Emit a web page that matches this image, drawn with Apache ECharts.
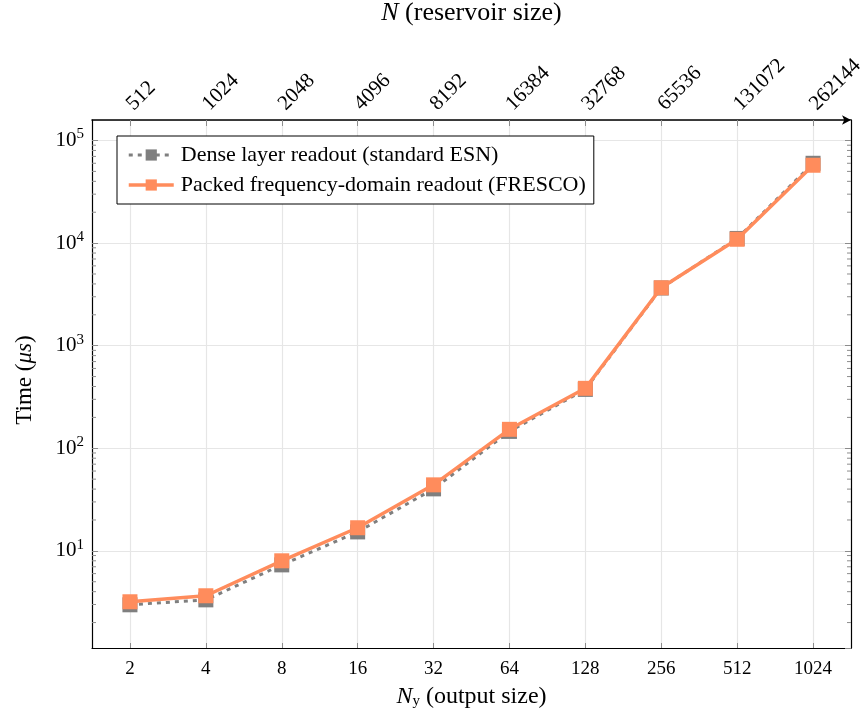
<!DOCTYPE html>
<html>
<head>
<meta charset="utf-8">
<script src="https://cdn.jsdelivr.net/npm/echarts@6/dist/echarts.min.js"></script>
<style>
  html, body { margin: 0; padding: 0; background: #fff; }
  #chart { width: 862px; height: 719px; }
</style>
</head>
<body>
<div id="chart"></div>
<script>
// Output sizes (bottom axis) and matching reservoir sizes (top axis)
const outputSizes = ['2', '4', '8', '16', '32', '64', '128', '256', '512', '1024'];
const reservoirSizes = ['512', '1024', '2048', '4096', '8192', '16384', '32768', '65536', '131072', '262144'];

// Readout time in microseconds
const denseTimes = [2.98, 3.33, 7.3, 15.3, 40.2, 146, 375, 3650, 11100, 60000];
const frescoTimes = [3.19, 3.65, 8.0, 16.8, 44, 153, 384, 3670, 10900, 57400];

const seriesNames = ['Dense layer readout (standard ESN)', 'Packed frequency-domain readout (FRESCO)'];

// Log-spaced minor tick values (2..9 per decade)
const minorMantissas = [2, 3, 4, 5, 6, 7, 8, 9];
const decades = [1, 10, 100, 1000, 10000];

const yMin = 1.13;
const yMax = 158500;

const SERIF = '"Liberation Serif", "DejaVu Serif", serif';
const ORANGE = '#ff8c5c';
const GRAY = '#7f7f7f';
const TICK = '#8c8c8c';
const DENSE_DASH = [4, 5];

const minorData = [];
decades.forEach(d => minorMantissas.forEach(m => {
  const v = m * d;
  if (v > yMin && v < yMax) minorData.push([0, v]);
}));

const supLabel = v => {
  const e = Math.round(Math.log10(v));
  return '{b|10}{s|' + e + '}';
};

const chart = echarts.init(document.getElementById('chart'), null, { renderer: 'canvas' });

chart.setOption({
  animation: false,
  backgroundColor: '#fff',
  textStyle: { fontFamily: SERIF },
  grid: { left: 92, right: 11, top: 120, bottom: 71, containLabel: false, outerBoundsMode: 'none' },
  legend: {
    orient: 'vertical',
    left: 117,
    top: 136,
    data: [
      { name: seriesNames[0], lineStyle: { width: 3, type: DENSE_DASH } },
      { name: seriesNames[1], lineStyle: { width: 3.5 } }
    ],
    backgroundColor: '#fff',
    borderColor: '#000',
    borderWidth: 1,
    borderRadius: 0,
    padding: [8, 8, 8, 10],
    itemGap: 8,
    itemWidth: 45,
    itemHeight: 14,
    textStyle: { fontFamily: SERIF, fontSize: 22, lineHeight: 22, color: '#000', padding: [0, 0, 0, 2] }
  },
  xAxis: [
    {
      type: 'category',
      data: outputSizes,
      position: 'bottom',
      boundaryGap: true,
      name: '{i|N}{sub|y}{n| (output size)}',
      nameLocation: 'middle',
      nameGap: 37,
      nameTextStyle: {
        rich: {
          i: { fontFamily: SERIF, fontStyle: 'italic', fontSize: 24, color: '#000' },
          sub: { fontFamily: SERIF, fontSize: 15, color: '#000', padding: [9, 0, 0, 0] },
          n: { fontFamily: SERIF, fontSize: 24, color: '#000' }
        }
      },
      axisLine: { show: true, lineStyle: { color: '#000', width: 1.2 } },
      axisTick: { show: true, inside: true, length: 5, alignWithLabel: true, lineStyle: { color: TICK } },
      axisLabel: { fontFamily: SERIF, fontSize: 19, color: '#000', margin: 12 },
      splitLine: { show: true, alignWithLabel: true, lineStyle: { color: '#e6e6e6', width: 1.2 } }
    },
    {
      type: 'category',
      data: reservoirSizes,
      position: 'top',
      boundaryGap: true,
      name: '{i|N}{n| (reservoir size)}',
      nameLocation: 'middle',
      nameGap: 94,
      nameTextStyle: {
        rich: {
          i: { fontFamily: SERIF, fontStyle: 'italic', fontSize: 26, color: '#000' },
          n: { fontFamily: SERIF, fontSize: 26, color: '#000' }
        }
      },
      axisLine: {
        show: true,
        symbol: ['none', 'arrow'],
        symbolSize: [7, 9],
        lineStyle: { color: '#000', width: 1.5 }
      },
      axisTick: { show: true, inside: true, length: 6, alignWithLabel: true, lineStyle: { color: TICK } },
      axisLabel: { fontFamily: SERIF, fontSize: 21, color: '#000', rotate: -45, margin: 13 },
      splitLine: { show: false }
    }
  ],
  yAxis: [
    {
      type: 'log',
      logBase: 10,
      min: yMin,
      max: yMax,
      position: 'left',
      name: '{n|Time (}{i|μs}{n|)}',
      nameLocation: 'middle',
      nameGap: 56,
      nameRotate: 90,
      nameTextStyle: {
        padding: [0, 0, 0, 8],
        rich: {
          i: { fontFamily: SERIF, fontStyle: 'italic', fontSize: 23, color: '#000' },
          n: { fontFamily: SERIF, fontSize: 23, color: '#000' }
        }
      },
      axisLine: { show: true, lineStyle: { color: '#000', width: 1.2 } },
      axisTick: { show: true, inside: true, length: 6, lineStyle: { color: TICK } },
      axisLabel: {
        showMinLabel: false,
        showMaxLabel: false,
        margin: 8,
        formatter: supLabel,
        rich: {
          b: { fontFamily: SERIF, fontSize: 21, color: '#000' },
          s: { fontFamily: SERIF, fontSize: 15, color: '#000', padding: [0, 0, 12, 0] }
        }
      },
      splitLine: { show: true, lineStyle: { color: '#e6e6e6', width: 1.2 } }
    },
    {
      type: 'log',
      logBase: 10,
      min: yMin,
      max: yMax,
      position: 'right',
      axisLine: { show: true, lineStyle: { color: '#000', width: 1.2 } },
      axisTick: { show: true, inside: true, length: 6, lineStyle: { color: TICK } },
      axisLabel: { show: false },
      splitLine: { show: false }
    }
  ],
  series: [
    {
      // minor log ticks on the left and right frame edges
      type: 'custom',
      name: 'minor',
      silent: true,
      xAxisIndex: 0,
      yAxisIndex: 0,
      z: 1,
      data: minorData,
      renderItem: (params, api) => {
        const rect = params.coordSys;
        const y = api.coord([0, api.value(1)])[1];
        const style = { stroke: TICK, lineWidth: 1 };
        return {
          type: 'group',
          children: [
            { type: 'line', shape: { x1: rect.x, y1: y, x2: rect.x + 4, y2: y }, style },
            { type: 'line', shape: { x1: rect.x + rect.width - 4, y1: y, x2: rect.x + rect.width, y2: y }, style }
          ]
        };
      }
    },
    {
      name: seriesNames[0],
      type: 'line',
      xAxisIndex: 0,
      yAxisIndex: 0,
      data: denseTimes,
      symbol: 'rect',
      symbolSize: 15,
      z: 3,
      itemStyle: { color: GRAY },
      lineStyle: { color: GRAY, width: 3, type: DENSE_DASH }
    },
    {
      name: seriesNames[1],
      type: 'line',
      xAxisIndex: 0,
      yAxisIndex: 0,
      data: frescoTimes,
      symbol: 'rect',
      symbolSize: 15,
      z: 4,
      itemStyle: { color: ORANGE },
      lineStyle: { color: ORANGE, width: 3.5 }
    }
  ]
});
</script>
</body>
</html>
